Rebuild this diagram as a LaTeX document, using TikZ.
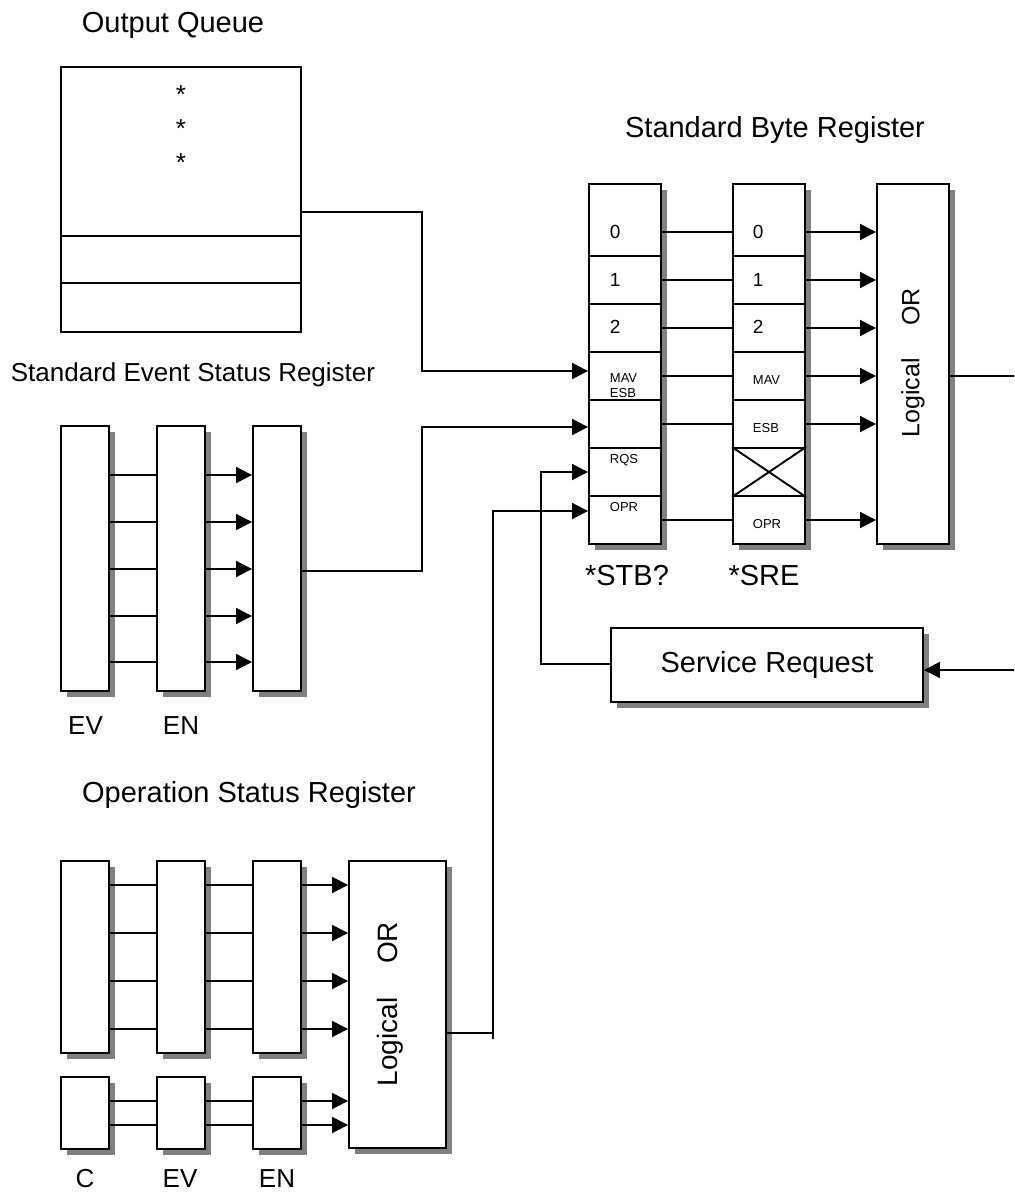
\documentclass[tikz,border=0pt]{standalone}
\usepackage{fontspec}
\setmainfont{Liberation Sans}
\usetikzlibrary{arrows.meta,positioning,shadows}

\begin{document}
\begin{tikzpicture}[x=1pt, y=-1pt, line width=1.9pt,
  reg/.style={draw, fill=white, minimum width=48pt, inner sep=0pt,
    drop shadow={shadow xshift=6pt, shadow yshift=-6pt, fill=black!50, opacity=1}},
  cell/.style={draw, minimum width=72pt, minimum height=48pt, inner sep=0pt},
  ttl/.style={font=\fontsize{29}{34}\selectfont},
  sub/.style={font=\fontsize{26}{30}\selectfont},
  num/.style={anchor=west, inner sep=0pt, font=\fontsize{19}{22}\selectfont},
  bit/.style={anchor=west, inner sep=0pt, align=left, font=\fontsize{13}{15}\selectfont},
  arr/.style={-{Triangle[length=16pt,width=16pt]}}]
  \useasboundingbox (0,0) rectangle (1014,1193);

  % output queue
  \node[ttl] (oqlbl) at (173,25) {Output Queue};
  \node[draw, minimum width=240pt, minimum height=265pt] (queue) at (181,199.5) {};
  \draw (queue.west |- 0,236) -- (queue.east |- 0,236);
  \draw (queue.west |- 0,283) -- (queue.east |- 0,283);
  \node[font=\fontsize{26}{28}\selectfont, inner sep=0pt] (star1) at (181,95) {*};
  \node[font=\fontsize{26}{28}\selectfont, inner sep=0pt] (star2) at (181,129) {*};
  \node[font=\fontsize{26}{28}\selectfont, inner sep=0pt] (star3) at (181,163) {*};

  % standard byte register
  \node[ttl] (sbrlbl) at (775,130) {Standard Byte Register};
  \node[reg, minimum width=72pt, minimum height=360pt] (stb) at (625,364) {};
  \node[cell, minimum height=72pt] (stb0) at (625,220) {};
  \node[cell] (stb1) at (625,280) {};
  \node[cell] (stb2) at (625,328) {};
  \node[cell] (stb3) at (625,376) {};
  \node[cell] (stb4) at (625,424) {};
  \node[cell] (stb5) at (625,472) {};
  \node[cell] (stb6) at (625,520) {};
  \node[num] (stbt0) at (609,232) {0};
  \node[num] (stbt1) at (609,280) {1};
  \node[num] (stbt2) at (609,327) {2};
  \node[bit] (stbt3) at (609,386) {MAV\\ESB};
  \node[bit] (stbt5) at (609,460) {RQS};
  \node[bit] (stbt6) at (609,507) {OPR};
  \node[ttl] (stblbl) at (627,576) {*STB?};

  \node[reg, minimum width=72pt, minimum height=360pt] (sre) at (769,364) {};
  \node[cell, minimum height=72pt] (sre0) at (769,220) {};
  \node[cell] (sre1) at (769,280) {};
  \node[cell] (sre2) at (769,328) {};
  \node[cell] (sre3) at (769,376) {};
  \node[cell] (sre4) at (769,424) {};
  \node[cell] (sre5) at (769,472) {};
  \node[cell] (sre6) at (769,520) {};
  \draw (sre5.north west) -- (sre5.south east) (sre5.south west) -- (sre5.north east);
  \node[num] (sret0) at (752,232) {0};
  \node[num] (sret1) at (752,280) {1};
  \node[num] (sret2) at (752,327) {2};
  \node[bit] (sret3) at (752,380) {MAV};
  \node[bit] (sret4) at (752,428) {ESB};
  \node[bit] (sret6) at (752,524) {OPR};
  \node[ttl] (srelbl) at (764,576) {*SRE};

  \node[reg, minimum width=72pt, minimum height=360pt] (sor) at (913,364) {};
  \node[rotate=90, font=\fontsize{25}{30}\selectfont] (sorlbl) at (913,363) {Logical\hspace{1.3em}OR};

  \draw ([yshift=-12pt]stb0.east) -- ([yshift=-12pt]sre0.west);
  \draw (stb1) -- (sre1); \draw (stb2) -- (sre2); \draw (stb3) -- (sre3);
  \draw (stb4) -- (sre4); \draw (stb6) -- (sre6);
  \draw[arr] ([yshift=-12pt]sre0.east) -- ([yshift=-12pt]sor.west |- sre0);
  \draw[arr] (sre1) -- (sor.west |- sre1); \draw[arr] (sre2) -- (sor.west |- sre2);
  \draw[arr] (sre3) -- (sor.west |- sre3); \draw[arr] (sre4) -- (sor.west |- sre4);
  \draw[arr] (sre6) -- (sor.west |- sre6);
  \coordinate (edge1) at (1014,376);
  \coordinate (edge2) at (1014,670);
  \draw (sor.east |- edge1) -- (edge1);

  % service request
  \node[reg, minimum width=312pt, minimum height=74pt, ttl] (srq) at (767,665) {Service Request};
  \draw[arr] (edge2) -- (srq.east |- edge2);
  \draw[arr] ([yshift=1pt]srq.west) -- ++(-69,0) |- (stb5.west);

  % standard event status register
  \node[sub] (seslbl) at (193,375) {Standard Event Status Register};
  \node[reg, minimum height=265pt] (sev) at (85,558.5) {};
  \node[reg, minimum height=265pt] (sen) at (181,558.5) {};
  \node[reg, minimum height=265pt] (ssum) at (277,558.5) {};
  \node[sub] (sevlbl) at (85.5,726) {EV};
  \node[sub] (senlbl) at (181,726) {EN};
  \draw (sev.east |- 0,475) -- (sen.west |- 0,475); \draw[arr] (sen.east |- 0,475) -- (ssum.west |- 0,475);
  \draw (sev.east |- 0,522) -- (sen.west |- 0,522); \draw[arr] (sen.east |- 0,522) -- (ssum.west |- 0,522);
  \draw (sev.east |- 0,569) -- (sen.west |- 0,569); \draw[arr] (sen.east |- 0,569) -- (ssum.west |- 0,569);
  \draw (sev.east |- 0,616) -- (sen.west |- 0,616); \draw[arr] (sen.east |- 0,616) -- (ssum.west |- 0,616);
  \draw (sev.east |- 0,662) -- (sen.west |- 0,662); \draw[arr] (sen.east |- 0,662) -- (ssum.west |- 0,662);

  \draw[arr] (queue.east |- 0,212) -- ++(120,0) |- ([yshift=5pt]stb3.west);
  \draw[arr] (ssum.east |- 0,571) -- ++(120,0) |- ([yshift=-3pt]stb4.west);

  % operation status register
  \node[ttl] (oslbl) at (249,795) {Operation Status Register};
  \node[reg, minimum height=192pt] (oc) at (85,957) {};
  \node[reg, minimum height=192pt] (oev) at (181,957) {};
  \node[reg, minimum height=192pt] (oen) at (277,957) {};
  \node[reg, minimum height=72pt] (oc2) at (85,1113) {};
  \node[reg, minimum height=72pt] (oev2) at (181,1113) {};
  \node[reg, minimum height=72pt] (oen2) at (277,1113) {};
  \node[reg, minimum width=97pt, minimum height=287pt] (oor) at (397.5,1004.5) {};
  \node[rotate=90, font=\fontsize{28}{32}\selectfont] (oorlbl) at (390,1004) {Logical\hspace{1.2em}OR};
  \node[sub] (oclbl) at (85,1179) {C};
  \node[sub] (oevlbl) at (180,1179) {EV};
  \node[sub] (oenlbl) at (277,1179) {EN};
  \draw (oc.east |- 0,885) -- (oev.west |- 0,885); \draw (oev.east |- 0,885) -- (oen.west |- 0,885); \draw[arr] (oen.east |- 0,885) -- (oor.west |- 0,885);
  \draw (oc.east |- 0,933) -- (oev.west |- 0,933); \draw (oev.east |- 0,933) -- (oen.west |- 0,933); \draw[arr] (oen.east |- 0,933) -- (oor.west |- 0,933);
  \draw (oc.east |- 0,981) -- (oev.west |- 0,981); \draw (oev.east |- 0,981) -- (oen.west |- 0,981); \draw[arr] (oen.east |- 0,981) -- (oor.west |- 0,981);
  \draw (oc.east |- 0,1029) -- (oev.west |- 0,1029); \draw (oev.east |- 0,1029) -- (oen.west |- 0,1029); \draw[arr] (oen.east |- 0,1029) -- (oor.west |- 0,1029);
  \draw (oc2.east |- 0,1101) -- (oev2.west |- 0,1101); \draw (oev2.east |- 0,1101) -- (oen2.west |- 0,1101); \draw[arr] (oen2.east |- 0,1101) -- (oor.west |- 0,1101);
  \draw (oc2.east |- 0,1125) -- (oev2.west |- 0,1125); \draw (oev2.east |- 0,1125) -- (oen2.west |- 0,1125); \draw[arr] (oen2.east |- 0,1125) -- (oor.west |- 0,1125);
  \coordinate (jn) at (493,1033);
  \draw (oor.east |- jn) -- (jn);
  \draw[arr] ([yshift=-6pt]jn) |- ([yshift=9pt]stb6.west);
\end{tikzpicture}
\end{document}
